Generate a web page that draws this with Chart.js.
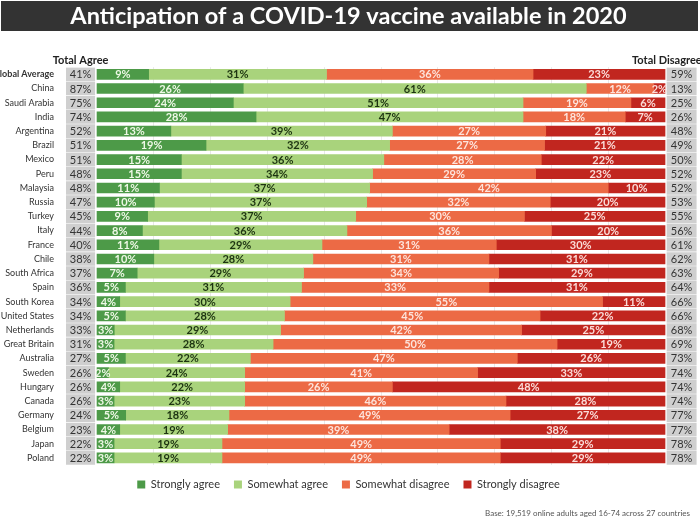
<!DOCTYPE html>
<html>
<head>
<meta charset="utf-8">
<script src="https://cdn.jsdelivr.net/npm/chart.js@4/dist/chart.umd.min.js"></script>
<style>
    html, body { margin: 0; padding: 0; background: #fff; }
</style>
</head>
<body>
<canvas id="vaccineChart" width="700" height="525"></canvas>
<script>
// 국가 / 응답 비율 (%)
const countries = ['Global Average', 'China', 'Saudi Arabia', 'India', 'Argentina', 'Brazil', 'Mexico', 'Peru',
    'Malaysia', 'Russia', 'Turkey', 'Italy', 'France', 'Chile', 'South Africa', 'Spain', 'South Korea',
    'United States', 'Netherlands', 'Great Britain', 'Australia', 'Sweden', 'Hungary', 'Canada', 'Germany',
    'Belgium', 'Japan', 'Poland'];
const stronglyAgree    = [9, 26, 24, 28, 13, 19, 15, 15, 11, 10, 9, 8, 11, 10, 7, 5, 4, 5, 3, 3, 5, 2, 4, 3, 5, 4, 3, 3];
const somewhatAgree    = [31, 61, 51, 47, 39, 32, 36, 34, 37, 37, 37, 36, 29, 28, 29, 31, 30, 28, 29, 28, 22, 24, 22, 23, 18, 19, 19, 19];
const somewhatDisagree = [36, 12, 19, 18, 27, 27, 28, 29, 42, 32, 30, 36, 31, 31, 34, 33, 55, 45, 42, 50, 47, 41, 26, 46, 49, 39, 49, 49];
const stronglyDisagree = [23, 2, 6, 7, 21, 21, 22, 23, 10, 20, 25, 20, 30, 31, 29, 31, 11, 22, 25, 19, 26, 33, 48, 28, 27, 38, 29, 29];
const totalAgree       = [41, 87, 75, 74, 52, 51, 51, 48, 48, 47, 45, 44, 40, 38, 37, 36, 34, 34, 33, 31, 27, 26, 26, 26, 24, 23, 22, 22];
const totalDisagree    = [59, 13, 25, 26, 48, 49, 50, 52, 52, 53, 55, 56, 61, 62, 63, 64, 66, 66, 68, 69, 73, 74, 74, 74, 77, 77, 78, 78];
const gridTicks = [10, 20, 30, 40, 50, 60, 70, 80, 90];

const seriesNames  = ['Strongly agree', 'Somewhat agree', 'Somewhat disagree', 'Strongly disagree'];
const seriesColors = ['#4d9a48', '#a9d37c', '#ec6a45', '#c1261f'];
const labelColors  = ['#eef8e6', '#1d3411', '#fde4dc', '#fbdcd8'];
const FONT = 'Lato';

// 좌우 합계 박스 (x축 값 기준)
const AGREE_BOX = [-5.4, -0.4];
const DISAGREE_BOX = [100.35, 105.5];

const series = [stronglyAgree, somewhatAgree, somewhatDisagree, stronglyDisagree];

// 100% 누적 막대 (반올림 값 합계가 99~101 이라 행별로 맞춤)
const rowSums = countries.map((c, i) => series.reduce((s, arr) => s + arr[i], 0));

const datasets = series.map((vals, i) => ({
    label: seriesNames[i],
    data: vals.map((v, j) => v / rowSums[j] * 100),
    backgroundColor: seriesColors[i],
    borderWidth: 0,
    barThickness: 10,
    stack: 'main'
}));
datasets.push({
    label: 'Total Agree',
    data: countries.map(() => AGREE_BOX),
    backgroundColor: '#cfcfcf',
    borderWidth: 0,
    barThickness: 13,
    stack: 'ta'
});
datasets.push({
    label: 'Total Disagree',
    data: countries.map(() => DISAGREE_BOX),
    backgroundColor: '#cfcfcf',
    borderWidth: 0,
    barThickness: 13,
    stack: 'td'
});

const totals = { 4: totalAgree, 5: totalDisagree };

const decorPlugin = {
    id: 'decor',
    beforeDraw(chart) {
        const ctx = chart.ctx;
        ctx.save();
        ctx.fillStyle = '#fff';
        ctx.fillRect(0, 0, chart.width, chart.height);
        ctx.fillStyle = '#333333';
        ctx.fillRect(1, 1, chart.width - 3, 30);
        ctx.restore();
    },
    afterDatasetsDraw(chart) {
        const ctx = chart.ctx;
        const xs = chart.scales.x;
        ctx.save();
        ctx.textBaseline = 'middle';
        ctx.textAlign = 'center';
        chart.data.datasets.forEach((ds, di) => {
            const meta = chart.getDatasetMeta(di);
            meta.data.forEach((bar, i) => {
                const cx = (bar.x + bar.base) / 2;
                if (di < 4) {
                    ctx.font = `bold 11px ${FONT}`;
                    ctx.fillStyle = labelColors[di];
                    ctx.fillText(series[di][i] + '%', cx, bar.y + 0.5);
                } else {
                    ctx.font = `11px ${FONT}`;
                    ctx.fillStyle = '#333';
                    ctx.fillText(totals[di][i] + '%', cx, bar.y + 0.5);
                }
            });
        });
        // 헤더
        ctx.font = `bold 11px ${FONT}`;
        ctx.fillStyle = '#222';
        ctx.fillText('Total Agree', xs.getPixelForValue((AGREE_BOX[0] + AGREE_BOX[1]) / 2), chart.chartArea.top - 7);
        ctx.textAlign = 'left';
        ctx.fillText('Total Disagree', xs.getPixelForValue(94.2), chart.chartArea.top - 7);
        // 출처
        ctx.font = `8px ${FONT}`;
        ctx.fillStyle = '#555';
        ctx.textAlign = 'right';
        ctx.fillText('Base: 19,519 online adults aged 16-74 across 27 countries', 690, 513);
        ctx.restore();
    }
};

new Chart(document.getElementById('vaccineChart'), {
    type: 'bar',
    data: { labels: countries, datasets: datasets },
    options: {
        indexAxis: 'y',
        responsive: false,
        animation: false,
        devicePixelRatio: 1,
        datasets: { bar: { grouped: false } },
        layout: { padding: { left: 0, right: 3, top: 0, bottom: 25 } },
        scales: {
            x: {
                stacked: true,
                min: -5.46,
                max: 105.63,
                ticks: { display: false },
                border: { display: false },
                grid: { color: '#e8e8e8', drawTicks: false },
                afterBuildTicks: axis => { axis.ticks = gridTicks.map(v => ({ value: v })); }
            },
            y: {
                stacked: true,
                grid: { display: false },
                border: { display: false },
                afterFit: axis => { axis.width = 66; },
                ticks: {
                    autoSkip: false,
                    padding: 4,
                    color: '#333',
                    font: c => ({ family: FONT, size: 9, weight: c.index === 0 ? 'bold' : 'normal' })
                }
            }
        },
        plugins: {
            title: {
                display: true,
                text: 'Anticipation of a COVID-19 vaccine available in 2020',
                color: '#ffffff',
                font: { family: FONT, size: 23.5, weight: 'bold' },
                padding: { top: 2, bottom: 37 }
            },
            legend: {
                position: 'bottom',
                labels: {
                    boxWidth: 8,
                    boxHeight: 8,
                    padding: 14,
                    color: '#333',
                    font: { family: FONT, size: 11 },
                    filter: item => item.datasetIndex < 4
                }
            },
            tooltip: { enabled: false }
        }
    },
    plugins: [decorPlugin]
});
</script>
</body>
</html>
